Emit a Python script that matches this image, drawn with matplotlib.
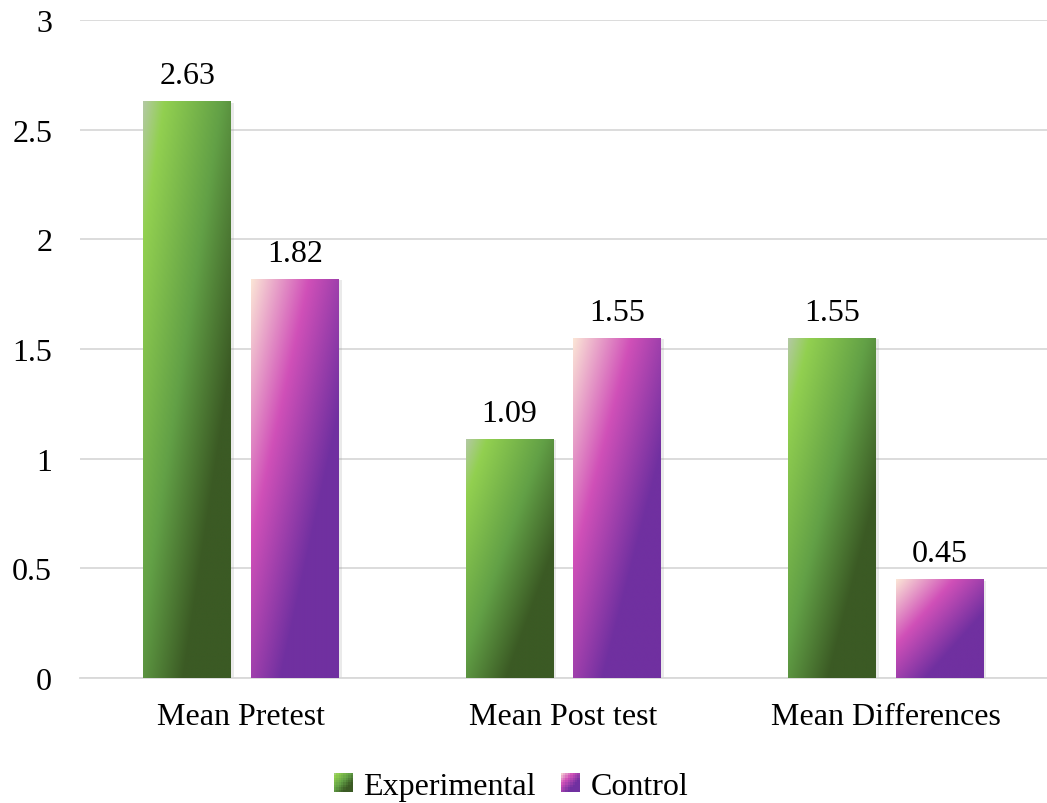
import numpy as np
import matplotlib
matplotlib.use("Agg")
import matplotlib.pyplot as plt
from matplotlib.colors import LinearSegmentedColormap
from matplotlib.legend_handler import HandlerBase
from matplotlib.patches import Rectangle, Patch
import matplotlib.patheffects as pe

categories = ["Mean Pretest", "Mean Post test", "Mean Differences"]
series_names = ["Experimental", "Control"]
experimental = [2.63, 1.09, 1.55]
control = [1.82, 1.55, 0.45]
yticks = [0, 0.5, 1, 1.5, 2, 2.5, 3]
ytick_labels = ["0", "0.5", "1", "1.5", "2", "2.5", "3"]

green_cmap = LinearSegmentedColormap.from_list(
    "g", [(0.0, "#b3c9a3"), (0.12, "#92d050"), (0.45, "#62a046"),
          (0.73, "#3b5a24"), (1.0, "#3b5a24")])
pink_cmap = LinearSegmentedColormap.from_list(
    "p", [(0.0, "#fbe5d6"), (0.33, "#d050b8"), (0.67, "#7030a0"),
          (1.0, "#7030a0")])

FS = 23
plt.rcParams['font.family'] = ['Liberation Serif', 'DejaVu Serif']
plt.rcParams['font.size'] = FS

fig = plt.figure(figsize=(10.47, 8.04), dpi=100)
ax = fig.add_axes([0.0764, 0.1555, 0.9236, 0.8184])

x = np.arange(len(categories))
bw = 0.272
off = 0.167

def grad_img(n=200):
    u = np.linspace(0, 1, n)
    v = np.linspace(1, 0, n)  # top row first
    U, V = np.meshgrid(u, v)
    return (U + (1 - V)) / 2.0

G = grad_img()

def draw(vals, pos, cmap):
    bars = ax.bar(pos, vals, width=bw, color=cmap(0.5), zorder=2,
                  path_effects=[pe.SimplePatchShadow(offset=(2, -1), shadow_rgbFace='#999999', alpha=0.2), pe.Normal()])
    for b, val in zip(bars, vals):
        x0, w, h = b.get_x(), b.get_width(), b.get_height()
        im = ax.imshow(G, cmap=cmap, vmin=0, vmax=1, extent=[x0, x0 + w, 0, h],
                       aspect='auto', zorder=3, interpolation='bilinear')
        im.set_clip_path(b)
        ax.annotate(f"{val:.2f}", (x0 + w / 2, h), xytext=(0, 8),
                    textcoords='offset points', ha='center', va='bottom',
                    fontsize=FS, color='black', zorder=4)
    return bars

draw(experimental, x - off, green_cmap)
draw(control, x + off, pink_cmap)

ax.set_xlim(-0.5, 2.5)
ax.set_ylim(0, 3)
ax.set_yticks(yticks)
ax.set_yticklabels(ytick_labels)
ax.set_xticks(x)
ax.set_xticklabels(categories)
ax.tick_params(axis='both', length=0, labelsize=FS)
ax.tick_params(axis='y', pad=20)
ax.tick_params(axis='x', pad=17)
ax.grid(axis='y', color='#d9d9d9', linewidth=1.3, zorder=0)
ax.set_axisbelow(True)
for s in ['top', 'right', 'left']:
    ax.spines[s].set_visible(False)
ax.spines['bottom'].set_color('#d9d9d9')
ax.spines['bottom'].set_linewidth(1.3)


class GradHandler(HandlerBase):
    def __init__(self, cmap):
        super().__init__()
        self.cmap = cmap

    def create_artists(self, legend, orig_handle, xdescent, ydescent,
                       width, height, fontsize, trans):
        n = 8
        s = height * 0.95
        x0 = -xdescent + width - s - 3
        y0 = -ydescent + (height - s) / 2
        arts = []
        for i in range(n):
            for j in range(n):
                t = ((i + 0.5) / n + 1 - (j + 0.5) / n) / 2
                r = Rectangle((x0 + i * s / n, y0 + j * s / n), s / n * 1.02, s / n * 1.02,
                              facecolor=self.cmap(t), edgecolor='none', transform=trans)
                arts.append(r)
        return arts

h1 = Patch(label=series_names[0])
h2 = Patch(label=series_names[1])
fig.legend([h1, h2], series_names, loc='center', bbox_to_anchor=(0.49, 0.021),
           ncol=2, frameon=False, fontsize=FS, handlelength=0.6, handleheight=0.6,
           handletextpad=0.2, columnspacing=0.9,
           handler_map={h1: GradHandler(green_cmap), h2: GradHandler(pink_cmap)})

fig.savefig("out.png", dpi=100)
